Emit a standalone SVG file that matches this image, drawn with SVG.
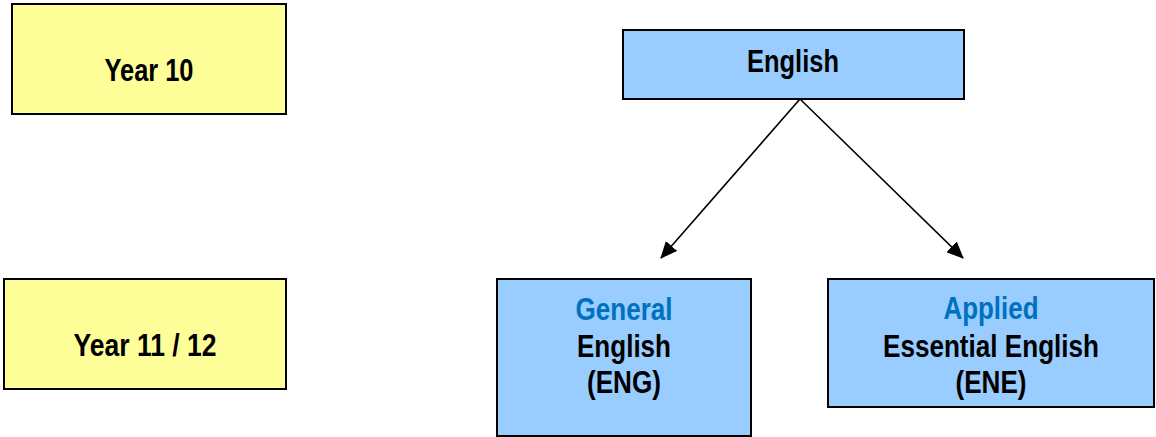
<svg xmlns="http://www.w3.org/2000/svg" width="1156" height="437" viewBox="0 0 1156 437">
<defs>
<style>
.yel{fill:#FFFF99;stroke:#000;stroke-width:2}
.blu{fill:#99CCFF;stroke:#000;stroke-width:2}
text{font-family:"Liberation Sans",Arial,sans-serif;font-weight:bold;font-size:32px;fill:#000;text-anchor:middle}
.hl{fill:#0070C0}
.conn{stroke:#000;stroke-width:1.6;fill:none}
</style>
<marker id="arr" markerWidth="17" markerHeight="15" refX="16" refY="7.5" orient="auto" markerUnits="userSpaceOnUse">
<path d="M0,0 L17,7.5 L0,15 Z" fill="#000"/>
</marker>
</defs>
<rect width="1156" height="437" fill="#fff"/>
<g id="year10">
<rect class="yel" x="12" y="4" width="274" height="110"/>
<text x="149" y="81" textLength="89" lengthAdjust="spacingAndGlyphs">Year 10</text>
</g>
<g id="year1112">
<rect class="yel" x="4" y="279" width="282" height="110"/>
<text x="145" y="356" textLength="143" lengthAdjust="spacingAndGlyphs">Year 11 / 12</text>
</g>
<g id="english">
<rect class="blu" x="623" y="30" width="341" height="69"/>
<text x="793" y="72" textLength="92" lengthAdjust="spacingAndGlyphs">English</text>
</g>
<g id="general">
<rect class="blu" x="497" y="279" width="254" height="157"/>
<text x="624" y="320" class="hl" textLength="97" lengthAdjust="spacingAndGlyphs">General</text>
<text x="624" y="357" textLength="94" lengthAdjust="spacingAndGlyphs">English</text>
<text x="624" y="393" textLength="74" lengthAdjust="spacingAndGlyphs">(ENG)</text>
</g>
<g id="applied">
<rect class="blu" x="828" y="279" width="326" height="128"/>
<text x="991" y="319" class="hl" textLength="95" lengthAdjust="spacingAndGlyphs">Applied</text>
<text x="991" y="357" textLength="216" lengthAdjust="spacingAndGlyphs">Essential English</text>
<text x="991" y="393" textLength="71" lengthAdjust="spacingAndGlyphs">(ENE)</text>
</g>
<g id="connectors">
<line class="conn" x1="800" y1="99" x2="661" y2="258" marker-end="url(#arr)"/>
<line class="conn" x1="800" y1="99" x2="963" y2="258" marker-end="url(#arr)"/>
</g>
</svg>
